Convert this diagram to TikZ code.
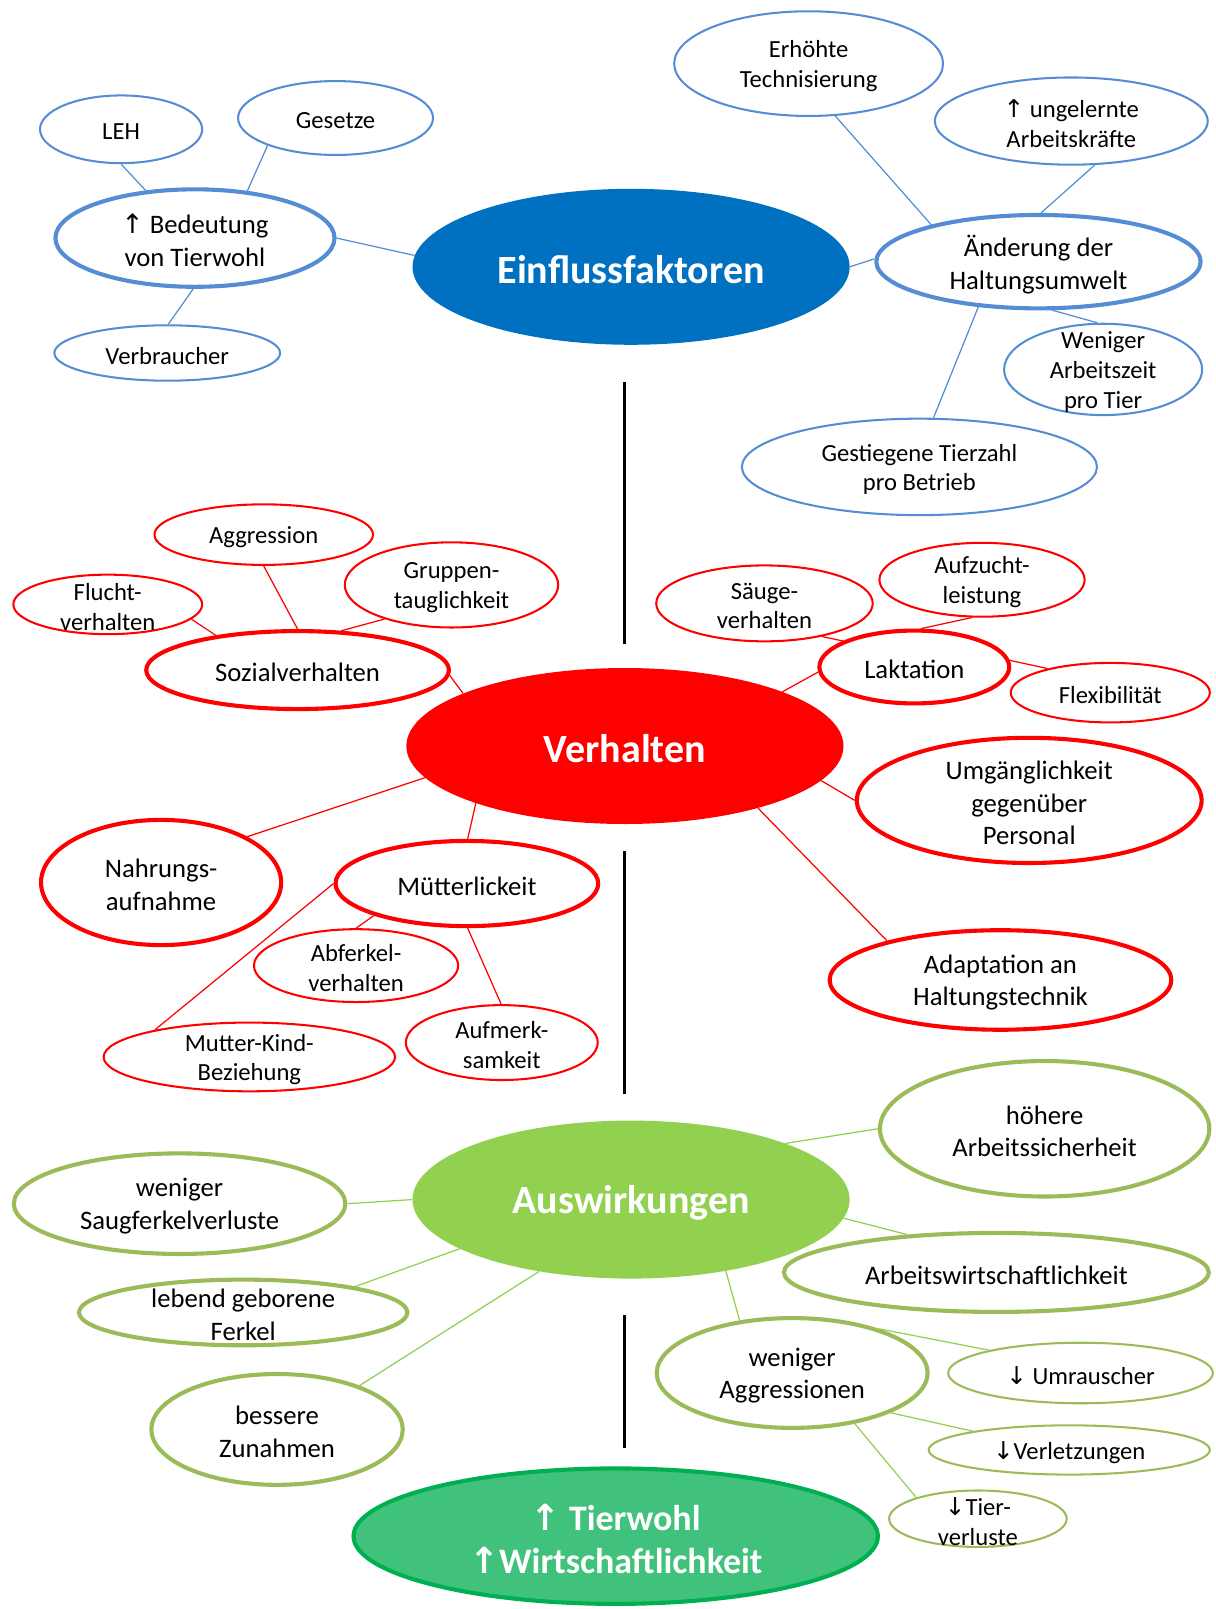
\documentclass[tikz,border=0pt]{standalone}
\usepackage{fontspec}
\setmainfont{Carlito}
\newfontfamily\pfeilfont{DejaVu Sans}
\usetikzlibrary{shapes.geometric}

\definecolor{blaurand}{RGB}{84,141,212}
\definecolor{blaufuell}{RGB}{0,112,192}
\definecolor{gruenrand}{RGB}{155,187,89}
\definecolor{gruenfuell}{RGB}{146,208,80}
\definecolor{tierfuell}{RGB}{64,194,124}
\definecolor{tierrand}{RGB}{0,176,80}

\newcommand{\kleinschrift}{\fontsize{24}{29}\selectfont}
\newcommand{\grossschrift}{\fontsize{26}{32}\selectfont}
\newcommand{\titelschrift}{\fontsize{39}{47}\selectfont\bfseries}
\newcommand{\zielschrift}{\fontsize{35}{42}\selectfont\bfseries}
\newcommand{\pfeilhoch}{{\pfeilfont ↑}}
\newcommand{\pfeilrunter}{{\pfeilfont ↓}}

\begin{document}
\begin{tikzpicture}[x=1pt, y=-1pt,
  klein/.style={ellipse, draw, line width=2pt, inner sep=0pt,
    label={[align=center, font=\kleinschrift, yshift=-2.5pt]center:#1}},
  dick/.style={ellipse, draw, line width=4pt, inner sep=0pt,
    label={[align=center, font=\grossschrift, yshift=-2.5pt]center:#1}},
  haupt/.style={ellipse, inner sep=0pt,
    label={[align=center, font=\titelschrift, text=white, yshift=-3pt]center:#1}},
  blaulinie/.style={draw=blaurand, line width=1.2pt},
  rotlinie/.style={draw=red, line width=1.2pt},
  gruenlinie/.style={draw=gruenfuell, line width=1.2pt},
  trenner/.style={line width=3pt}]

\useasboundingbox (0,0) rectangle (1185,1568);

% Einflussfaktoren
\node[haupt=Einflussfaktoren, fill=blaufuell, minimum width=426, minimum height=152] (einfluss) at (615,260) {};
\node[dick={\pfeilhoch\ Bedeutung\\von Tierwohl}, draw=blaurand, minimum width=272, minimum height=95] (bedeutung) at (190,232) {};
\node[klein=LEH, draw=blaurand, minimum width=158, minimum height=66] (leh) at (118,126) {};
\node[klein=Gesetze, draw=blaurand, minimum width=190, minimum height=72] (gesetze) at (327,115) {};
\node[klein=Verbraucher, draw=blaurand, minimum width=220, minimum height=54] (verbraucher) at (163,344) {};
\node[klein={Erhöhte\\Technisierung}, draw=blaurand, minimum width=262, minimum height=102] (technik) at (788,62) {};
\node[klein={\pfeilhoch\ ungelernte\\Arbeitskräfte}, draw=blaurand, minimum width=266, minimum height=85] (ungelernt) at (1044,118) {};
\node[dick={Änderung der\\Haltungsumwelt}, draw=blaurand, minimum width=316, minimum height=91] (aenderung) at (1012,255) {};
\node[klein={Weniger\\Arbeitszeit\\pro Tier}, draw=blaurand, minimum width=193, minimum height=89] (arbeitszeit) at (1075,360) {};
\node[klein={Gestiegene Tierzahl\\pro Betrieb}, draw=blaurand, minimum width=346, minimum height=94] (tierzahl) at (896,455) {};

\draw[blaulinie] (bedeutung.0) -- (einfluss.177);
\draw[blaulinie] (leh.270) -- (bedeutung.136);
\draw[blaulinie] (gesetze.202) -- (bedeutung.42);
\draw[blaulinie] (verbraucher.88) -- (bedeutung.268);
\draw[blaulinie] (einfluss.0) -- (aenderung.179);
\draw[blaulinie] (technik.297) -- (aenderung.161);
\draw[blaulinie] (ungelernt.298) -- (aenderung.87);
\draw[blaulinie] (aenderung.286) -- (arbeitszeit.97);
\draw[blaulinie] (aenderung.217) -- (tierzahl.74);

% Verhalten
\node[haupt=Verhalten, fill=red, minimum width=426, minimum height=152] (verhalten) at (609,727) {};
\node[dick=Sozialverhalten, draw=red, minimum width=295, minimum height=76] (sozial) at (290,653) {};
\node[klein=Aggression, draw=red, minimum width=213, minimum height=59] (aggression) at (257,521) {};
\node[klein={Flucht-\\verhalten}, draw=red, minimum width=184, minimum height=58] (flucht) at (105,589) {};
\node[klein={Gruppen-\\tauglichkeit}, draw=red, minimum width=208, minimum height=83] (gruppen) at (440,570) {};
\node[klein={Säuge-\\verhalten}, draw=red, minimum width=211, minimum height=74] (saeuge) at (745,588) {};
\node[klein={Aufzucht-\\leistung}, draw=red, minimum width=200, minimum height=72] (aufzucht) at (957,565) {};
\node[dick=Laktation, draw=red, minimum width=185, minimum height=71] (laktation) at (891,650) {};
\node[klein=Flexibilität, draw=red, minimum width=194, minimum height=58] (flex) at (1082,675) {};
\node[dick={Umgänglichkeit\\gegenüber\\Personal}, draw=red, minimum width=336, minimum height=122] (umgang) at (1003,780) {};
\node[dick={Nahrungs-\\aufnahme}, draw=red, minimum width=234, minimum height=122] (nahrung) at (157,860) {};
\node[dick=Mütterlickeit, draw=red, minimum width=256, minimum height=83] (mutter) at (455,861) {};
\node[klein={Abferkel-\\verhalten}, draw=red, minimum width=199, minimum height=71] (abferkel) at (347,941) {};
\node[klein={Aufmerk-\\samkeit}, draw=red, minimum width=187, minimum height=73] (aufmerk) at (489,1016) {};
\node[klein={Mutter-Kind-\\Beziehung}, draw=red, minimum width=284, minimum height=67] (mutterkind) at (243,1030) {};
\node[dick={Adaptation an\\Haltungstechnik}, draw=red, minimum width=333, minimum height=97] (adaptation) at (975,955) {};

\draw[rotlinie] (sozial.358) -- (verhalten.162);
\draw[rotlinie] (aggression.270) -- (sozial.90);
\draw[rotlinie] (flucht.350) -- (sozial.157);
\draw[rotlinie] (gruppen.207) -- (sozial.42);
\draw[rotlinie] (saeuge.330) -- (laktation.160);
\draw[rotlinie] (aufzucht.255) -- (laktation.80);
\draw[rotlinie] (laktation.183) -- (verhalten.19);
\draw[rotlinie] (laktation.4) -- (flex.159);
\draw[rotlinie] (verhalten.350) -- (umgang.180);
\draw[rotlinie] (verhalten.335) -- (adaptation.161);
\draw[rotlinie] (nahrung.28) -- (verhalten.189);
\draw[rotlinie] (verhalten.201) -- (mutter.89);
\draw[rotlinie] (mutter.199) -- (abferkel.90);
\draw[rotlinie] (mutter.271) -- (aufmerk.91);
\draw[rotlinie] (mutterkind.164) -- (mutter.180);

% Auswirkungen
\node[haupt=Auswirkungen, fill=gruenfuell, minimum width=426, minimum height=154] (auswirk) at (615,1169) {};
\node[dick={höhere\\Arbeitssicherheit}, draw=gruenrand, minimum width=321, minimum height=132] (sicherheit) at (1018,1100) {};
\node[dick={weniger\\Saugferkelverluste}, draw=gruenrand, minimum width=323, minimum height=98] (saugferkel) at (175,1173) {};
\node[dick=Arbeitswirtschaftlichkeit, draw=gruenrand, minimum width=414, minimum height=77] (awirt) at (971,1240) {};
\node[dick={lebend geborene\\Ferkel}, draw=gruenrand, minimum width=320, minimum height=64] (lebend) at (237,1279) {};
\node[dick={weniger\\Aggressionen}, draw=gruenrand, minimum width=264, minimum height=107] (weniger) at (772,1338) {};
\node[klein={\pfeilrunter\ Umrauscher}, draw=gruenrand, minimum width=258, minimum height=59] (umrauscher) at (1053,1338) {};
\node[dick={bessere\\Zunahmen}, draw=gruenrand, minimum width=245, minimum height=108] (zunahmen) at (270,1393) {};
\node[klein={\pfeilrunter Verletzungen}, draw=gruenrand, minimum width=274, minimum height=48] (verletz) at (1042,1413) {};
\node[klein={\pfeilrunter Tier-\\verluste}, draw=gruenrand, minimum width=173, minimum height=55] (tierverl) at (953,1480) {};
\node[ellipse, inner sep=0pt, fill=tierfuell, draw=tierrand, line width=4pt, minimum width=511, minimum height=132,
  label={[align=center, font=\zielschrift, text=white, yshift=-3pt]center:\pfeilhoch\ Tierwohl\\\pfeilhoch Wirtschaftlichkeit}] (ziel) at (600,1497) {};

\draw[gruenlinie] (auswirk.20) -- (sicherheit.180);
\draw[gruenlinie] (saugferkel.0) -- (auswirk.180);
\draw[gruenlinie] (auswirk.355) -- (awirt.157);
\draw[gruenlinie] (lebend.13) -- (auswirk.196);
\draw[gruenlinie] (zunahmen.28) -- (auswirk.218);
\draw[gruenlinie] (auswirk.323) -- (weniger.135);
\draw[gruenlinie] (weniger.27) -- (umrauscher.166);
\draw[gruenlinie] (weniger.338) -- (verletz.169);
\draw[gruenlinie] (weniger.321) -- (tierverl.161);

\foreach \ya/\yb in {372/628, 829/1066, 1281/1411}
  \draw[trenner] (609,\ya) -- (609,\yb);

\end{tikzpicture}
\end{document}
